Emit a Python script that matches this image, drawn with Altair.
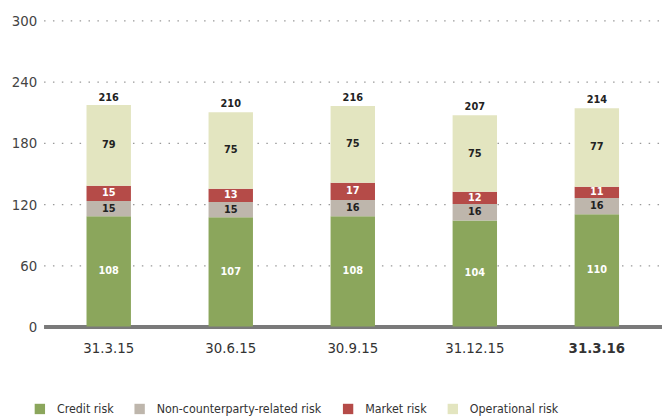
import altair as alt
import pandas as pd

dates = ["31.3.15", "30.6.15", "30.9.15", "31.12.15", "31.3.16"]
types = ["Credit risk", "Non-counterparty-related risk", "Market risk", "Operational risk"]
credit = [108, 107, 108, 104, 110]
noncp = [15, 15, 16, 16, 16]
market = [15, 13, 17, 12, 11]
oper = [79, 75, 75, 75, 77]
totals = [216, 210, 216, 207, 214]
colors = ["#8BA65C", "#BEB6AC", "#B54B48", "#E3E5C0"]

FONT = "DejaVu Sans Condensed, sans-serif"

rows = []
for i, d in enumerate(dates):
    for k, (t, vals) in enumerate(zip(types, [credit, noncp, market, oper])):
        rows.append({"date": d, "type": t, "value": vals[i], "order": k})
df = pd.DataFrame(rows)
tot = pd.DataFrame({"date": dates, "total": totals})

xenc = alt.X("date:N", sort=dates, title=None,
             scale=alt.Scale(paddingInner=0.636, paddingOuter=0.352),
             axis=alt.Axis(labelAngle=0, ticks=False, domainColor="#7a7a7a", domainWidth=4,
                           labelFontSize=15, labelColor="#333", labelPadding=14, labelFont=FONT,
                           labelFontWeight=alt.condition("datum.value == '31.3.16'", alt.value("bold"), alt.value("normal"))))
yscale = alt.Scale(domain=[0, 300], nice=False)

bars = alt.Chart(df).mark_bar().encode(
    x=xenc,
    y=alt.Y("value:Q", stack="zero", scale=yscale, title=None,
            axis=alt.Axis(values=list(range(0, 301, 30)),
                          labelExpr="datum.value % 60 == 0 ? datum.label : ''",
                          ticks=False, domain=False, gridDash=[1.5, 7.5], gridColor="#999",
                          gridWidth=1.3, labelFontSize=15, labelColor="#444", labelPadding=7,
                          labelFont=FONT)),
    color=alt.Color("type:N", scale=alt.Scale(domain=types, range=colors), sort=types,
                    legend=alt.Legend(title=None, orient="none", legendX=-10, legendY=387,
                                      direction="horizontal", columns=4, columnPadding=20,
                                      labelOffset=11, symbolType="square", symbolSize=110,
                                      symbolStrokeWidth=0, labelFontSize=12.5, labelColor="#333",
                                      labelFont=FONT, labelLimit=0)),
    order=alt.Order("order:Q"),
)

seg = alt.Chart(df).transform_stack(
    stack="value", as_=["y0", "y1"], groupby=["date"], sort=[alt.SortField("order")]
).transform_calculate(mid="(datum.y0 + datum.y1) / 2").mark_text(
    fontSize=11, fontWeight="bold", baseline="middle", font=FONT
).encode(
    x=alt.X("date:N", sort=dates),
    y=alt.Y("mid:Q", scale=yscale),
    text="value:Q",
    color=alt.condition("datum.type == 'Credit risk' || datum.type == 'Market risk'",
                        alt.value("white"), alt.value("#222")),
)

toplab = alt.Chart(tot).mark_text(
    fontSize=11, fontWeight="bold", baseline="middle", dy=-8, color="#222", font=FONT
).encode(
    x=alt.X("date:N", sort=dates),
    y=alt.Y("total:Q", scale=yscale),
    text="total:Q",
)

chart = alt.layer(bars, seg, toplab).properties(
    width=626, height=310,
    autosize=alt.AutoSizeParams(type="none"),
    padding={"left": 36, "top": 10, "right": 0, "bottom": 89},
).configure_view(stroke=None)

chart.save("out.html", embed_options={"renderer": "svg", "actions": False})
